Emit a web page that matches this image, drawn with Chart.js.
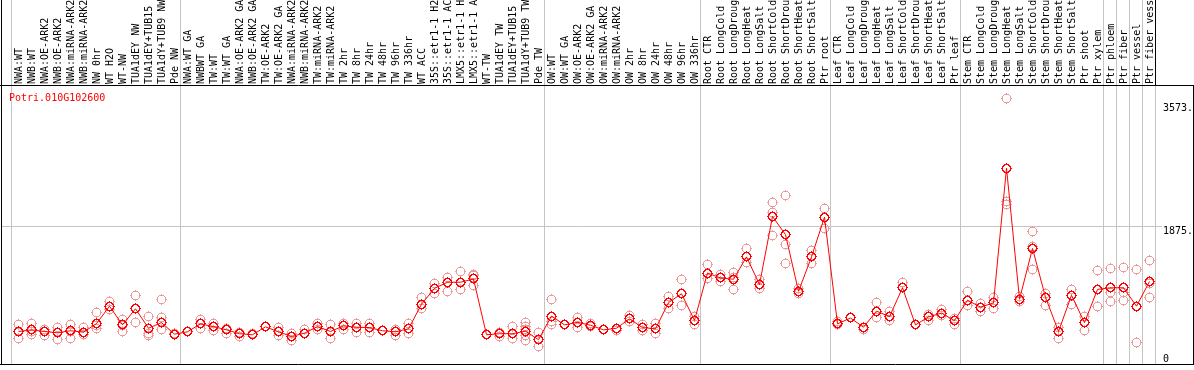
<!DOCTYPE html>
<html>
<head>
<meta charset="utf-8">
<script src="https://cdn.jsdelivr.net/npm/chart.js@4.4.0/dist/chart.umd.min.js"></script>
<style>
  html, body { margin: 0; padding: 0; background: #fff; }
  canvas { display: block; }
</style>
</head>
<body>
<canvas id="chart" width="1194" height="370"></canvas>
<script>
const geneId = 'Potri.010G102600';

const categories = [
  'NWA:WT', 'NWB:WT', 'NWA:OE-ARK2', 'NWB:OE-ARK2', 'NWA:miRNA-ARK2', 'NWB:miRNA-ARK2',
  'NW 0hr', 'WT H2O', 'WT-NW', 'TUA1dEY NW', 'TUA1dEY+TUB15 NW', 'TUA1dY+TUB9 NW', 'Pde NW',
  'NWA:WT GA', 'NWBWT GA', 'TW:WT', 'TW:WT GA', 'NWA:OE-ARK2 GA', 'NWB:OE-ARK2 GA',
  'TW:OE-ARK2', 'TW:OE-ARK2 GA', 'NWA:miRNA-ARK2 GA', 'NWB:miRNA-ARK2 GA', 'TW:miRNA-ARK2',
  'TW:miRNA-ARK2 GA', 'TW 2hr', 'TW 8hr', 'TW 24hr', 'TW 48hr', 'TW 96hr', 'TW 336hr', 'WT ACC',
  '35S::etr1-1 H2O', '35S::etr1-1 ACC', 'LMX5::etr1-1 H2O', 'LMX5::etr1-1 ACC', 'WT-TW',
  'TUA1dEY TW', 'TUA1dEY+TUB15 TW', 'TUA1dY+TUB9 TW', 'Pde TW',
  'OW:WT', 'OW:WT GA', 'OW:OE-ARK2', 'OW:OE-ARK2 GA', 'OW:miRNA-ARK2', 'OW:miRNA-ARK2 GA',
  'OW 2hr', 'OW 8hr', 'OW 24hr', 'OW 48hr', 'OW 96hr', 'OW 336hr',
  'Root CTR', 'Root LongCold', 'Root LongDrought', 'Root LongHeat', 'Root LongSalt',
  'Root ShortCold', 'Root ShortDrought', 'Root ShortHeat', 'Root ShortSalt', 'Ptr root',
  'Leaf CTR', 'Leaf LongCold', 'Leaf LongDrought', 'Leaf LongHeat', 'Leaf LongSalt',
  'Leaf ShortCold', 'Leaf ShortDrought', 'Leaf ShortHeat', 'Leaf ShortSalt', 'Ptr leaf',
  'Stem CTR', 'Stem LongCold', 'Stem LongDrought', 'Stem LongHeat', 'Stem LongSalt',
  'Stem ShortCold', 'Stem ShortDrought', 'Stem ShortHeat', 'Stem ShortSalt', 'Ptr shoot',
  'Ptr xylem', 'Ptr phloem', 'Ptr fiber', 'Ptr vessel', 'Ptr fiber vessel'
];

// number of categories between the grey separators
const groupSizes = [13, 28, 12, 10, 10, 11, 1, 1, 1, 1];

const meanValues = [
  421, 444, 421, 403, 431, 412, 530, 770, 512, 734, 466, 543, 384,
  417, 526, 489, 444, 390, 376, 485, 417, 353, 398, 489, 421, 498, 480, 475, 431, 417, 458,
  797, 1015, 1100, 1100, 1145, 376, 390, 390, 426, 308,
  634, 512, 547, 507, 444, 466, 594, 475, 458, 819, 941, 575,
  1227, 1159, 1141, 1449, 1069, 2006, 1756, 974, 1449, 1997,
  526, 607, 480, 702, 625, 1023, 512, 621, 675, 571,
  852, 757, 815, 2672, 865, 1566, 892, 421, 920, 543, 1001,
  1023, 1023, 770, 1110
];

const replicateValues = [
  [516, 421, 330], [526, 421, 376], [452, 421, 363], [475, 403, 317], [512, 421, 330],
  [475, 412, 376], [679, 498, 466], [829, 770, 724], [588, 498, 417], [920, 543],
  [625, 398, 363], [865, 615, 444], [390, 384],
  [417], [588, 466], [526, 435], [466, 398], [403, 353], [390, 376], [485], [471, 363],
  [398, 299], [452, 398], [526, 444], [512, 330], [534, 444], [526, 408], [526, 408], [431],
  [444, 363], [526, 390], [887, 738], [1087, 951], [1168, 978], [1250, 996],
  [1213, 1190, 1055], [376], [403, 353], [489, 330], [543, 489, 444, 363, 299], [408, 217],
  [865, 557, 512], [512], [615, 480], [526, 489], [444], [466, 435], [648, 560], [512, 431],
  [526, 398], [897, 738], [1137, 784], [634, 520],
  [1341, 1145], [1213, 1114], [1236, 1168, 996], [1562, 1372], [1132, 1009],
  [2201, 2065, 1743], [2292, 1621, 1362], [1009, 951], [1539, 1358], [2119, 1847],
  [557, 512], [607], [480, 444], [815, 615], [693, 571], [1100, 1023], [521, 512],
  [657, 575], [724, 648], [594, 512],
  [974, 784], [806, 693], [883, 738], [3637, 2210, 2177], [910, 829], [1803, 1589, 1273],
  [941, 784], [475, 330], [1001, 792], [625, 431], [1259, 761],
  [1290, 955, 829], [1304, 964, 842], [1273, 272], [1395, 1077, 883]
];

const yTickValues = [3573, 1875, 0];
const yTickLabels = ['3573.', '1875.', '0'];
const gridValue = 1875;

const FONT = '10px "DejaVu Sans Mono"';
const GREY = '#c4c4c4';

// pixel masks for the markers, 11x11
const thinRing = [
  '.....#.....',
  '...#####...',
  '..#.....#..',
  '.#.......#.',
  '.#.......#.',
  '##.......##',
  '.#.......#.',
  '.#.......#.',
  '..#.....#..',
  '...#####...',
  '.....#.....'
];
const thickRing = [
  '.....#.....',
  '...#####...',
  '..##...##..',
  '.##.....##.',
  '.#.......#.',
  '##.......##',
  '.#.......#.',
  '.##.....##.',
  '..##...##..',
  '...#####...',
  '.....#.....'
];

function makeMarker(mask, color) {
  const c = document.createElement('canvas');
  c.width = 11;
  c.height = 11;
  const g = c.getContext('2d');
  g.fillStyle = color;
  mask.forEach((row, j) => {
    for (let i = 0; i < row.length; i++) {
      if (row[i] === '#') g.fillRect(i, j, 1, 1);
    }
  });
  return c;
}

const meanMarker = makeMarker(thickRing, '#ff0000');
const repMarker = makeMarker(thinRing, '#ee9a9a');

let replicatePoints = [];
replicateValues.forEach((vals, i) => {
  vals.forEach(v => replicatePoints.push({ x: categories[i], y: v }));
});

function vline(ctx, x, y1, y2) {
  ctx.beginPath();
  ctx.moveTo(x, y1);
  ctx.lineTo(x, y2);
  ctx.stroke();
}

function hline(ctx, y, x1, x2) {
  ctx.beginPath();
  ctx.moveTo(x1, y);
  ctx.lineTo(x2, y);
  ctx.stroke();
}

const framePlugin = {
  id: 'frame',
  beforeDatasetsDraw(chart) {
    let ctx = chart.ctx;
    let area = chart.chartArea;
    let x = chart.scales.x;
    let y = chart.scales.y;
    ctx.save();
    ctx.lineWidth = 1;
    ctx.strokeStyle = GREY;

    let gy = Math.round(y.getPixelForValue(gridValue)) + 0.5;
    hline(ctx, gy, 1, 1162);

    let bounds = [0];
    let k = 0;
    groupSizes.forEach(n => { k += n; bounds.push(k); });
    bounds.forEach((b, i) => {
      let px = Math.round(x.getPixelForValue(b) - 7.5) + 0.5;
      let top = i === bounds.length - 1 ? area.top : 0;
      vline(ctx, px, top, area.bottom);
    });

    // category labels, rotated, reading upwards
    ctx.font = FONT;
    ctx.fillStyle = '#000';
    ctx.textAlign = 'left';
    ctx.textBaseline = 'alphabetic';
    categories.forEach((label, i) => {
      ctx.save();
      ctx.translate(x.getPixelForValue(i) + 3, area.top - 1);
      ctx.rotate(-Math.PI / 2);
      ctx.fillText(label, 0, 0);
      ctx.restore();
    });

    // gene id
    ctx.fillStyle = '#ff0000';
    ctx.fillText(geneId, 9, area.top + 16);

    // right-hand value labels
    ctx.fillStyle = '#000';
    yTickValues.forEach((v, i) => {
      let py = y.getPixelForValue(v);
      let base = py + 9 > area.bottom ? py : py + 8.5;
      ctx.fillText(yTickLabels[i], 1163, base);
    });
    ctx.restore();
    // crisp pixel markers
    ctx.imageSmoothingEnabled = false;
  },
  afterDatasetsDraw(chart) {
    let ctx = chart.ctx;
    let area = chart.chartArea;
    let w = chart.width;
    ctx.save();
    ctx.strokeStyle = '#000';
    ctx.lineWidth = 1;
    hline(ctx, area.top + 0.5, 0, w);
    hline(ctx, area.bottom - 0.5, 0, w);
    vline(ctx, 1.5, 0, area.bottom);
    vline(ctx, w - 0.5, area.top, area.bottom);
    vline(ctx, Math.round(chart.scales.x.getPixelForValue(categories.length) - 7.5) + 0.5, 0, area.top);
    ctx.restore();
  }
};

new Chart(document.getElementById('chart'), {
  type: 'line',
  data: {
    labels: categories,
    datasets: [
      {
        data: meanValues,
        borderColor: '#ff0000',
        borderWidth: 1,
        pointStyle: meanMarker,
        pointRadius: 4,
        tension: 0,
        fill: false,
        order: 1
      },
      {
        data: replicatePoints,
        showLine: false,
        pointStyle: repMarker,
        pointRadius: 4,
        order: 2
      }
    ]
  },
  options: {
    responsive: false,
    animation: false,
    devicePixelRatio: 1,
    layout: { padding: { left: 12, right: 38, top: 85, bottom: 1 } },
    plugins: {
      legend: { display: false },
      tooltip: { enabled: false }
    },
    scales: {
      x: { display: false, offset: true },
      y: { display: false, min: -40.8, max: 3818 }
    }
  },
  plugins: [framePlugin]
});
</script>
</body>
</html>
